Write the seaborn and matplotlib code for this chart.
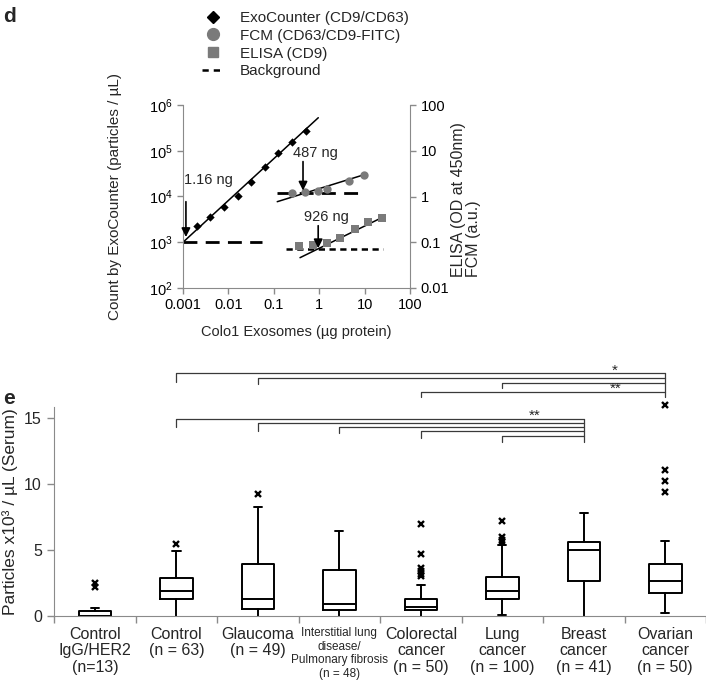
import matplotlib
matplotlib.use('Agg')
import matplotlib.pyplot as plt
import seaborn as sns
import numpy as np
from matplotlib.lines import Line2D
from matplotlib.ticker import NullLocator

# ---- panel d data ----
exo_ug = [0.002, 0.004, 0.008, 0.016, 0.031, 0.0625, 0.125, 0.25, 0.5]
exo_count = [2210, 3480, 5750, 10500, 21200, 43600, 91000, 158000, 275000]
exo_fit_x = [0.001, 0.955]
exo_fit_y = [1000, 527000]
exo_bg_x = [0.001, 0.054]
exo_bg_y = [1000, 1000]

fcm_ug = [0.25, 0.49, 0.95, 1.45, 4.6, 9.7]
fcm_val = [1.21, 1.24, 1.32, 1.44, 2.21, 2.99]
fcm_fit_x = [0.119, 9.7]
fcm_fit_y = [0.77, 2.99]
fcm_bg_x = [0.116, 7.3]
fcm_bg_y = [1.17, 1.17]

elisa_ug = [0.35, 0.74, 1.46, 2.9, 6.15, 11.7, 23.8]
elisa_od = [0.084, 0.087, 0.095, 0.122, 0.192, 0.277, 0.344]
elisa_fit_x = [0.378, 23.8]
elisa_fit_y = [0.046, 0.344]
elisa_bg_x = [0.19, 25.9]
elisa_bg_y = [0.07, 0.07]

x_ticks = [0.001, 0.01, 0.1, 1, 10, 100]
x_ticklabels = ['0.001', '0.01', '0.1', '1', '10', '100']
left_ticks = [1e2, 1e3, 1e4, 1e5, 1e6]
right_ticks = [0.01, 0.1, 1, 10, 100]
right_ticklabels = ['0.01', '0.1', '1', '10', '100']

# ---- panel e data ----
groups = ['Control\nIgG/HER2\n(n=13)', 'Control\n(n = 63)', 'Glaucoma\n(n = 49)',
          'Interstitial lung\ndisease/\nPulmonary fibrosis\n(n = 48)',
          'Colorectal\ncancer\n(n = 50)', 'Lung\ncancer\n(n = 100)',
          'Breast\ncancer\n(n = 41)', 'Ovarian\ncancer\n(n = 50)']
whislo = [0, 0, 0, 0, 0, 0.08, 0, 0.2]
q1 = [0, 1.29, 0.53, 0.45, 0.45, 1.29, 2.65, 1.77]
med = [0, 1.92, 1.26, 0.91, 0.71, 1.92, 5.03, 2.63]
q3 = [0.4, 2.85, 3.91, 3.51, 1.29, 2.98, 5.63, 3.91]
whishi = [0.58, 4.92, 8.26, 6.47, 2.37, 5.4, 7.83, 5.71]
fliers = [[2.22, 2.5], [5.45], [9.24], [], [3.0, 3.2, 3.4, 3.65, 4.7, 6.95],
          [5.6, 5.75, 5.95, 7.17], [], [9.39, 10.23, 11.06, 15.98]]

# significance brackets: left group, bar height, end of left drop
top_left = [1, 2, 5, 4]
top_y = [18.43, 18.05, 17.67, 16.99]
top_drop = [17.75, 17.58, 17.25, 16.61]
top_right = 7
bot_left = [1, 2, 3, 4, 5]
bot_y = [14.92, 14.62, 14.32, 14.02, 13.64]
bot_drop = [14.3, 14.05, 13.85, 13.5, 13.2]
bot_right = 6

sns.set_style('ticks')
plt.rcParams['font.family'] = ['Liberation Sans', 'DejaVu Sans']
plt.rcParams['mathtext.fontset'] = 'custom'
plt.rcParams['mathtext.rm'] = 'Liberation Sans'
grey = '#8a8a8a'
marker_grey = '#7a7a7a'

fig = plt.figure(figsize=(7.06, 6.81), dpi=100)

# ================= panel d =================
ax = fig.add_axes([183/706, 1-288/681, 227/706, 183/681])
ax.set_xscale('log')
ax.set_yscale('log')
ax2 = ax.twinx()
ax2.set_yscale('log')

ax.plot(exo_bg_x, exo_bg_y, color='black', lw=2, dashes=(5, 3))
sns.lineplot(x=exo_fit_x, y=exo_fit_y, color='black', lw=1.1, estimator=None, ax=ax)
sns.scatterplot(x=exo_ug, y=exo_count, marker='D', color='black', s=18, linewidth=0, ax=ax, zorder=3)

ax2.plot(fcm_bg_x, fcm_bg_y, color='black', lw=2, dashes=(5, 3))
sns.lineplot(x=fcm_fit_x, y=fcm_fit_y, color='black', lw=1.1, estimator=None, ax=ax2)
sns.scatterplot(x=fcm_ug, y=fcm_val, marker='o', color=marker_grey, s=36, linewidth=0, ax=ax2, zorder=3)

ax2.plot(elisa_bg_x, elisa_bg_y, color='black', lw=1.8, dashes=(2.5, 1.8))
sns.lineplot(x=elisa_fit_x, y=elisa_fit_y, color='black', lw=1.1, estimator=None, ax=ax2)
sns.scatterplot(x=elisa_ug, y=elisa_od, marker='s', color=marker_grey, s=36, linewidth=0, ax=ax2, zorder=3)

ax.set_xlim(0.001, 100)
ax.set_ylim(1e2, 1e6)
ax2.set_ylim(0.01, 100)
ax.set_xticks(x_ticks, labels=x_ticklabels)
ax.set_yticks(left_ticks)
ax2.set_yticks(right_ticks, labels=right_ticklabels)
for a in (ax, ax2):
    a.xaxis.set_minor_locator(NullLocator())
    a.yaxis.set_minor_locator(NullLocator())
    a.spines['top'].set_visible(False)
    for s in a.spines.values():
        s.set_color(grey)
    a.tick_params(colors=grey, labelcolor='black', labelsize=10.5, length=4, width=1)
ax.spines['right'].set_visible(False)
ax2.spines['left'].set_visible(False)
ax2.spines['bottom'].set_visible(False)

arrow = dict(arrowstyle='-|>', color='black', lw=1.2, mutation_scale=13, shrinkA=0, shrinkB=0)
ax.annotate('', xy=(0.00116, 1300), xytext=(0.00116, 7700), arrowprops=arrow)
ax.text(0.00105, 2.3e4, '1.16 ng', fontsize=10.5, va='center', ha='left')
ax2.annotate('', xy=(0.44, 1.35), xytext=(0.44, 5.8), arrowprops=arrow)
ax2.text(0.81, 8.9, '487 ng', fontsize=10.5, va='center', ha='center')
ax2.annotate('', xy=(0.95, 0.074), xytext=(0.95, 0.23), arrowprops=arrow)
ax2.text(1.41, 0.356, '926 ng', fontsize=10.5, va='center', ha='center')

fig.text(115/706, 1-196.5/681, 'Count by ExoCounter (particles / µL)', rotation=90,
         ha='center', va='center', fontsize=11)
fig.text(466/706, 1-277/681, 'ELISA (OD at 450nm)\nFCM (a.u.)', rotation=90,
         ha='center', va='bottom', fontsize=11.5, multialignment='left', linespacing=1.0)
fig.text(296/706, 1-332/681, 'Colo1 Exosomes (µg protein)', ha='center', va='center', fontsize=10.5)

handles = [Line2D([], [], ls='none', marker='D', color='black', markersize=6),
           Line2D([], [], ls='none', marker='o', color=marker_grey, markersize=8.5),
           Line2D([], [], ls='none', marker='s', color=marker_grey, markersize=7.5),
           Line2D([], [], color='black', lw=1.8, dashes=(2.5, 2))]
fig.legend(handles, ['ExoCounter (CD9/CD63)', 'FCM (CD63/CD9-FITC)', 'ELISA (CD9)', 'Background'],
           loc='upper left', bbox_to_anchor=(202/706, 1-11/681), frameon=False, fontsize=11,
           handlelength=1.4, handletextpad=1.1, labelspacing=0.25, borderpad=0, borderaxespad=0)

fig.text(0.004, 1-16/681, 'd', fontsize=15, fontweight='bold', va='center')
fig.text(0.004, 1-399/681, 'e', fontsize=15, fontweight='bold', va='center')

# ================= panel e =================
axe = fig.add_axes([54.3/706, 1-616/681, (706-54.3)/706, 209.3/681])
stats = [dict(med=m, q1=a, q3=b, whislo=lo, whishi=hi, fliers=f)
         for m, a, b, lo, hi, f in zip(med, q1, q3, whislo, whishi, fliers)]
parts = axe.bxp(stats, positions=range(len(groups)), widths=0.4, capwidths=0.1,
                manage_ticks=False, patch_artist=False,
                boxprops=dict(color='black', lw=1.4),
                medianprops=dict(color='black', lw=1.4),
                whiskerprops=dict(color='black', lw=1.4),
                capprops=dict(color='black', lw=1.4),
                flierprops=dict(marker='x', markeredgecolor='black', markersize=4.5, markeredgewidth=1.7))
for i, lo in enumerate(whislo):
    if lo <= 0:
        parts['caps'][2*i].set_visible(False)
for f in parts['fliers']:
    f.set_clip_on(False)

axe.set_xlim(-0.5, 7.5)
axe.set_ylim(0, 15.86)
axe.set_yticks([0, 5, 10, 15])
axe.set_xticks(range(len(groups)), labels=groups)
axe.set_xticks(np.arange(-0.5, 8, 1), minor=True)
axe.tick_params(axis='x', which='major', length=0, pad=8, labelsize=11.5)
axe.tick_params(axis='x', which='minor', length=5, color=grey, width=1)
axe.tick_params(axis='y', length=5, color=grey, width=1, labelsize=11.5, pad=4)
for t in axe.get_xticklabels():
    t.set_linespacing(1.1)
ild = axe.get_xticklabels()[3]
ild.set_fontsize(8.5)
ild.set_linespacing(1.18)
axe.spines['top'].set_visible(False)
axe.spines['right'].set_visible(False)
axe.spines['left'].set_color(grey)
axe.spines['bottom'].set_color(grey)
axe.set_ylabel('Particles x10³ / µL (Serum)', fontsize=12.5)
axe.yaxis.set_label_coords(-0.055, 0.5)

bc = '#3a3a3a'
for i, y, yd in zip(top_left, top_y, top_drop):
    axe.plot([i, i, top_right], [yd, y, y], color=bc, lw=0.9, clip_on=False)
axe.plot([top_right, top_right], [max(top_y), min(top_drop)], color=bc, lw=0.9, clip_on=False)
for i, y, yd in zip(bot_left, bot_y, bot_drop):
    axe.plot([i, i, bot_right], [yd, y, y], color=bc, lw=0.9, clip_on=False)
axe.plot([bot_right, bot_right], [max(bot_y), min(bot_drop)], color=bc, lw=0.9, clip_on=False)
axe.text(6.38, 18.6, '*', ha='center', va='center', fontsize=11)
axe.text(6.39, 17.25, '**', ha='center', va='center', fontsize=11)
axe.text(5.4, 15.2, '**', ha='center', va='center', fontsize=11)

fig.savefig('out.png', dpi=100)
